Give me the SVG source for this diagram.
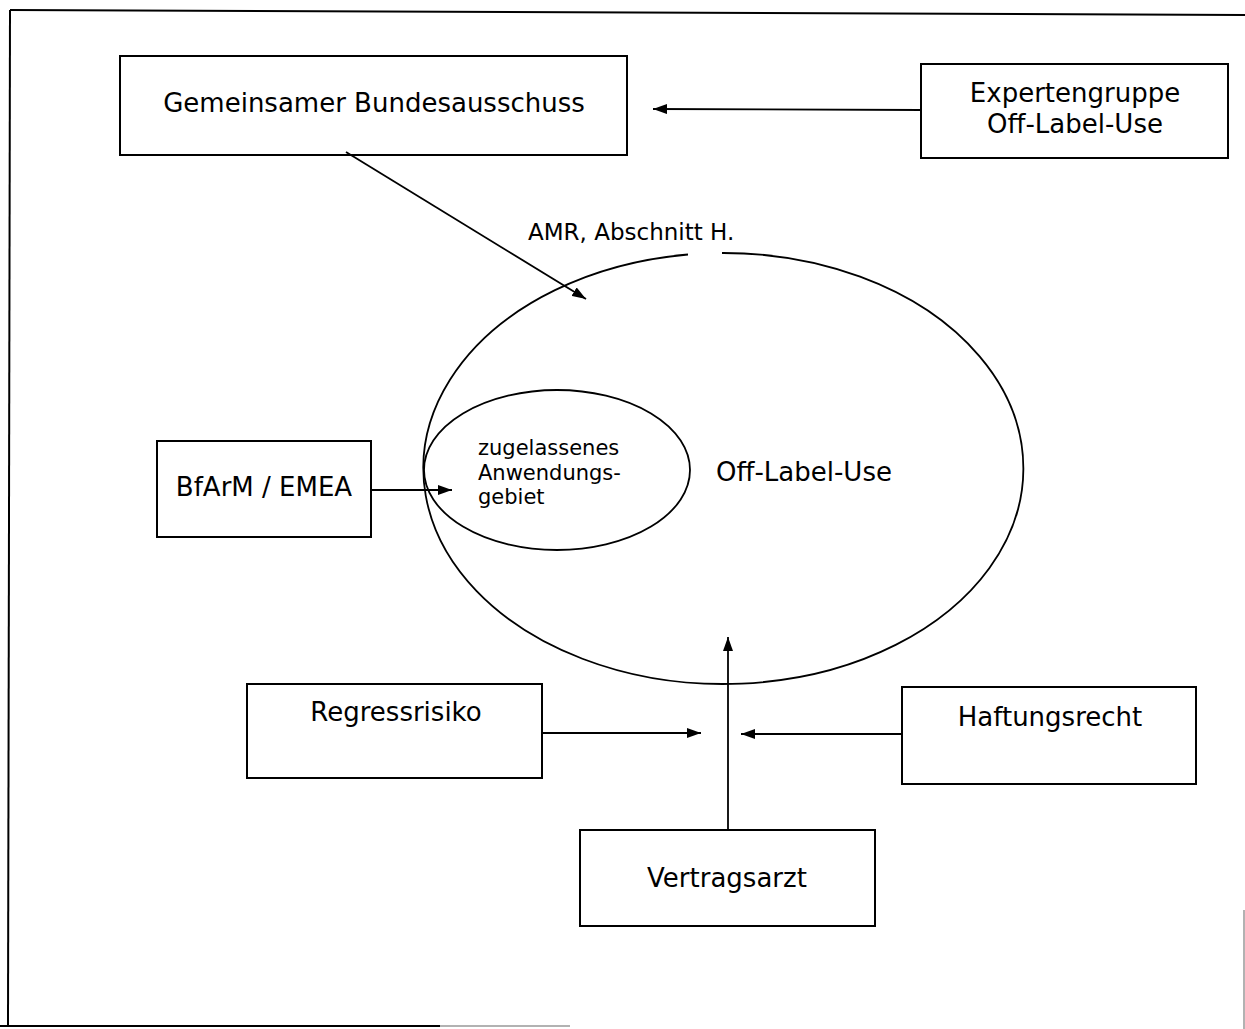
<svg xmlns="http://www.w3.org/2000/svg" width="1245" height="1029" viewBox="0 0 1245 1029">
  <defs>
    <marker id="arr" viewBox="0 0 14 10" refX="14" refY="5" markerWidth="14" markerHeight="10" markerUnits="userSpaceOnUse" orient="auto">
      <path d="M0,0 L14,5 L0,10 Z" fill="#000"/>
    </marker>
    <style>
      .box { fill: #fff; stroke: #000; stroke-width: 2; }
      .ell { fill: none; stroke: #000; stroke-width: 1.8; }
      .conn { fill: none; stroke: #000; stroke-width: 1.8; marker-end: url(#arr); }
      .frame { fill: none; stroke: #000; stroke-width: 2; }
      text { font-family: "DejaVu Sans", Verdana, sans-serif; fill: #000; }
      .big { font-size: 26px; text-anchor: middle; }
      .mid { font-size: 23px; }
      .small { font-size: 21px; }
    </style>
  </defs>
  <rect width="1245" height="1029" fill="#fff"/>

  <!-- scan frame -->
  <g id="frame">
    <line class="frame" x1="10" y1="10" x2="1245" y2="15"/>
    <line class="frame" x1="10" y1="10" x2="8" y2="1026"/>
    <line class="frame" x1="0" y1="1026" x2="440" y2="1026"/>
    <line x1="440" y1="1026" x2="570" y2="1026" stroke="#999" stroke-width="1.5"/>
    <line x1="1244" y1="910" x2="1244" y2="1029" stroke="#999" stroke-width="1.5"/>
  </g>

  <g id="off-label-use">
    <path class="ell" d="M 722 253 A 300 215.5 0 1 1 688 254.5"/>
    <text class="big" x="804" y="481">Off-Label-Use</text>
  </g>

  <g id="zugelassenes-anwendungsgebiet">
    <ellipse class="ell" cx="557" cy="470" rx="133" ry="80"/>
    <text class="small" x="478" y="455">zugelassenes</text>
    <text class="small" x="478" y="480">Anwendungs-</text>
    <text class="small" x="478" y="504">gebiet</text>
  </g>

  <g id="amr-label">
    <text class="mid" x="528" y="240">AMR, Abschnitt H.</text>
  </g>

  <g id="gba">
    <rect class="box" x="120" y="56" width="507" height="99"/>
    <text class="big" x="374" y="112">Gemeinsamer Bundesausschuss</text>
  </g>

  <g id="expertengruppe">
    <rect class="box" x="921" y="64" width="307" height="94"/>
    <text class="big" x="1075" y="102">Expertengruppe</text>
    <text class="big" x="1075" y="133">Off-Label-Use</text>
  </g>

  <g id="bfarm">
    <rect class="box" x="157" y="441" width="214" height="96"/>
    <text class="big" x="264" y="496">BfArM / EMEA</text>
  </g>

  <g id="regressrisiko">
    <rect class="box" x="247" y="684" width="295" height="94"/>
    <text class="big" x="396" y="721">Regressrisiko</text>
  </g>

  <g id="haftungsrecht">
    <rect class="box" x="902" y="687" width="294" height="97"/>
    <text class="big" x="1050" y="726">Haftungsrecht</text>
  </g>

  <g id="vertragsarzt">
    <rect class="box" x="580" y="830" width="295" height="96"/>
    <text class="big" x="727" y="887">Vertragsarzt</text>
  </g>

  <g id="connectors">
    <line class="conn" x1="921" y1="110" x2="653" y2="109"/>
    <line class="conn" x1="346" y1="152" x2="586" y2="299"/>
    <line class="conn" x1="371" y1="490" x2="452" y2="490"/>
    <line class="conn" x1="542" y1="733" x2="701" y2="733"/>
    <line class="conn" x1="902" y1="734" x2="741" y2="734"/>
    <line class="conn" x1="728" y1="830" x2="728" y2="637"/>
  </g>
</svg>
